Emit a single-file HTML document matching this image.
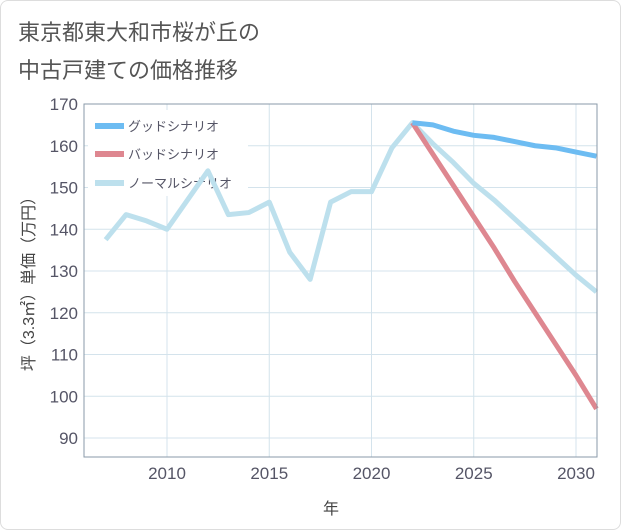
<!DOCTYPE html>
<html><head><meta charset="utf-8"><style>
body{margin:0;background:#fff;font-family:"Liberation Sans","Noto Sans CJK JP",sans-serif;}
#wrap{position:relative;width:619px;height:528px;border:1px solid #ddd;border-radius:8px;overflow:hidden}
</style></head><body>
<div id="wrap">
<svg id="c" width="621" height="530" style="position:absolute;left:-1px;top:-1px" font-family="Liberation Sans, Noto Sans CJK JP, sans-serif">
<text x="18" y="40" font-size="22" fill="#555">東京都東大和市桜が丘の</text>
<text x="18" y="78" font-size="22" fill="#555">中古戸建ての価格推移</text>
<g id="grid"></g><g id="legend"></g><g id="series"></g><g id="axes"></g>
<text x="331" y="514" font-size="16" fill="#444" text-anchor="middle">年</text>
<text transform="translate(34,280) rotate(-90)" font-size="16" fill="#444" text-anchor="middle">坪（3.3㎡）単価（万円）</text>
</svg></div>
<script>
const years=[2007,2008,2009,2010,2011,2012,2013,2014,2015,2016,2017,2018,2019,2020,2021,2022,2023,2024,2025,2026,2027,2028,2029,2030,2031];
const normal=[137.5,143.5,142,140,147,154,143.5,144,146.5,134.5,128,146.5,149,149,159.5,165.5,160.5,156,151,147,142.5,138,133.5,129,125];
const goodYears=[2022,2023,2024,2025,2026,2027,2028,2029,2030,2031];
const good=[165.5,165,163.5,162.5,162,161,160,159.5,158.5,157.5];
const bad=[165.5,158,150.5,143,135.5,127.5,120,112.5,105,97];
const yTicks=[90,100,110,120,130,140,150,160,170];
const xTicks=[2010,2015,2020,2025,2030];
const X=v=>167+(v-2010)*20.45, Y=v=>438-(v-90)*4.175;
const L=84,R=597,T=104,B=457;
const ns="http://www.w3.org/2000/svg";
function mk(p,t,a){const e=document.createElementNS(ns,t);for(const k in a)e.setAttribute(k,a[k]);document.getElementById(p).appendChild(e);return e;}
yTicks.forEach(v=>{
 const l=mk('grid','line',{x1:L,x2:R,y1:Y(v),y2:Y(v),stroke:'#d4e3ec','stroke-width':1});
 
 
 const t=mk('axes','text',{x:L-6,y:Y(v)+6,'font-size':17,fill:'#556','text-anchor':'end'});t.textContent=v;
 
 
});
xTicks.forEach(v=>{
 const l=mk('grid','line',{x1:X(v),x2:X(v),y1:T,y2:B,stroke:'#d4e3ec','stroke-width':1});
 
 
 const t=mk('axes','text',{x:X(v),y:B+22,'font-size':17,fill:'#556','text-anchor':'middle'});t.textContent=v;
 
 
});
const f=mk('axes','rect',{x:L,y:T,width:R-L,height:B-T,fill:'none',stroke:'#8a9aa8','stroke-width':1});


function line(xs,ys,col,name){const p=mk('series','polyline',{points:xs.map((x,i)=>X(x)+','+Y(ys[i])).join(' '),fill:'none',stroke:col,'stroke-width':5,'stroke-linejoin':'round'});
 
 }
line(years,normal,'#bde0ed','normal-scenario-line');
line(goodYears,bad,'#de8790','bad-scenario-line');
line(goodYears,good,'#6dbcf2','good-scenario-line');
const lb=mk('legend','rect',{x:88,y:110,width:160,height:86,fill:'#fff'});


[['グッドシナリオ','#6dbcf2',126],['バッドシナリオ','#de8790',154],['ノーマルシナリオ','#bde0ed',183]].forEach(([n,c,y])=>{
 const s=mk('legend','rect',{x:95,y:y-3,width:29,height:6,fill:c});
 
 
 const t=mk('legend','text',{x:128,y:y+5,'font-size':13,fill:'#556'});t.textContent=n;
 
 
});
</script></body></html>
